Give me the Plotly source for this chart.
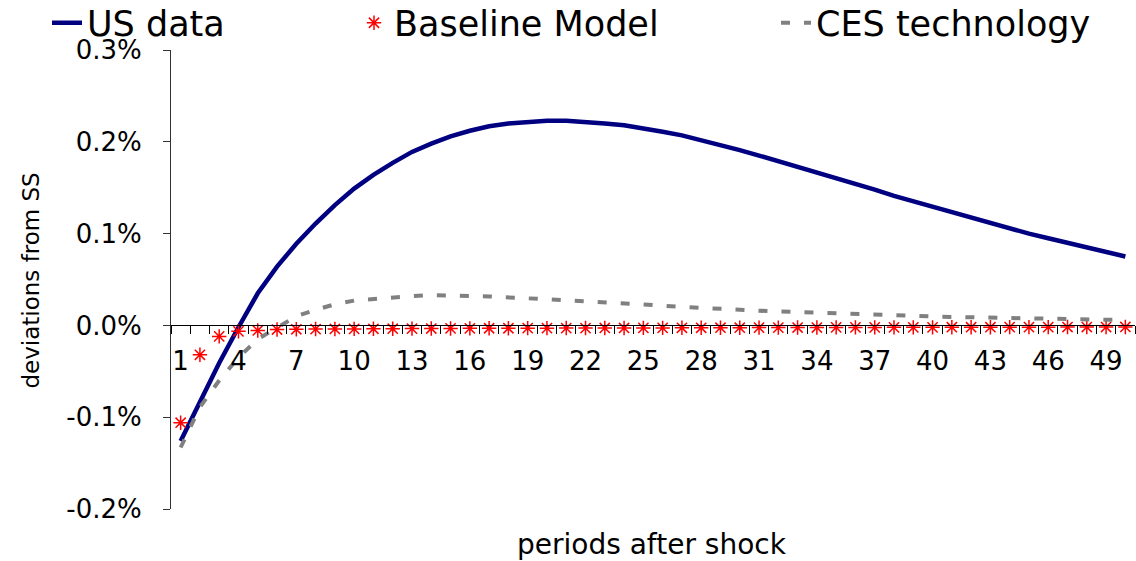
import plotly.graph_objects as go

# Impulse responses, % deviations from steady state, by period after the shock
periods = list(range(1, 51))

us_data = [-0.126, -0.083, -0.041, -0.002, 0.035, 0.064, 0.089, 0.111, 0.131, 0.149,
           0.164, 0.177, 0.189, 0.198, 0.206, 0.212, 0.217, 0.220, 0.222, 0.223,
           0.223, 0.222, 0.220, 0.218, 0.215, 0.211, 0.207, 0.202, 0.197, 0.191,
           0.185, 0.179, 0.173, 0.166, 0.160, 0.154, 0.148, 0.141, 0.135, 0.129,
           0.123, 0.117, 0.111, 0.106, 0.100, 0.095, 0.090, 0.085, 0.080, 0.075]

baseline_model = [-0.106, -0.032, -0.012, -0.0065, -0.0055, -0.0045, -0.0042, -0.004, -0.0039, -0.0038,
                  -0.0037, -0.0036, -0.0035, -0.0034, -0.0033, -0.0032, -0.0031, -0.0031, -0.003, -0.003,
                  -0.0029, -0.0029, -0.0028, -0.0028, -0.0027, -0.0027, -0.0026, -0.0026, -0.0025, -0.0025,
                  -0.0024, -0.0024, -0.0023, -0.0023, -0.0022, -0.0022, -0.0022, -0.0021, -0.0021, -0.0021,
                  -0.002, -0.002, -0.002, -0.0019, -0.0019, -0.0019, -0.0018, -0.0018, -0.0018, -0.0017]

ces_technology = [-0.133, -0.089, -0.060, -0.035, -0.015, -0.002, 0.010, 0.017, 0.023, 0.027,
                  0.029, 0.031, 0.032, 0.033, 0.033, 0.032, 0.0315, 0.031, 0.0295, 0.0285,
                  0.0275, 0.0265, 0.0255, 0.0242, 0.023, 0.0215, 0.0202, 0.019, 0.018, 0.017,
                  0.016, 0.0153, 0.0145, 0.0138, 0.0132, 0.0126, 0.0118, 0.011, 0.0104, 0.0098,
                  0.0092, 0.0087, 0.0084, 0.008, 0.0075, 0.0071, 0.0068, 0.0065, 0.0062, 0.006]

x_tick_labels = [p for p in periods if (p - 1) % 3 == 0]
y_ticks = [-0.2, -0.1, 0.0, 0.1, 0.2, 0.3]

FONT = "DejaVu Sans"
W, H = 1136, 561
ML, MR, MT, MB = 171, 1, 50, 52
PLOT_W, PLOT_H = W - ML - MR, H - MT - MB

fig = go.Figure()

fig.add_trace(go.Scatter(
    x=periods, y=us_data, name="US data", mode="lines",
    line=dict(color="#000080", width=4.5), legend="legend", showlegend=True,
))
fig.add_trace(go.Scatter(
    x=periods, y=baseline_model, name="Baseline Model", mode="markers",
    marker=dict(symbol="asterisk-open", size=12, color="red",
                line=dict(color="red", width=1.5)),
    legend="legend2", showlegend=True,
))
fig.add_trace(go.Scatter(
    x=periods, y=ces_technology, name="CES technology", mode="lines",
    line=dict(color="#808080", width=4, dash="9px,14px"),
    legend="legend3", showlegend=True,
))

# category boundaries get the small tick marks, labels sit every third period
boundaries = [p - 0.5 for p in periods] + [periods[-1] + 0.5]

y_min, y_max = y_ticks[0], y_ticks[-1]


def legend_box(left_px):
    # one legend per series so each entry can sit in its own spot across the top
    return dict(x=(left_px - ML) / PLOT_W, y=1 + (MT - 23) / PLOT_H,
                xanchor="left", yanchor="middle",
                bgcolor="rgba(0,0,0,0)",
                font=dict(family=FONT, size=35, color="black"))


fig.update_layout(
    width=W, height=H,
    margin=dict(l=ML, r=MR, t=MT, b=MB, autoexpand=False),
    paper_bgcolor="white", plot_bgcolor="white",
    font=dict(family=FONT, color="black"),
    showlegend=True,
    xaxis=dict(
        range=[periods[0] - 0.5, periods[-1] + 0.5],
        anchor="free", position=(0 - y_min) / (y_max - y_min),
        showline=True, linecolor="black", linewidth=1,
        showgrid=False, zeroline=False,
        tickmode="array", tickvals=x_tick_labels, ticktext=[str(v) for v in x_tick_labels],
        ticks="outside", ticklen=8, tickcolor="rgba(0,0,0,0)",
        tickfont=dict(family=FONT, size=26, color="black"),
        ticklabelstandoff=4,
        minor=dict(tickmode="array", tickvals=boundaries, ticks="outside",
                   ticklen=8, tickcolor="black", tickwidth=1, showgrid=False),
    ),
    yaxis=dict(
        range=[y_min, y_max],
        showline=True, linecolor="#333333", linewidth=1,
        showgrid=False, zeroline=False,
        tickmode="array", tickvals=y_ticks,
        ticktext=[f"{v:.1f}%" for v in y_ticks],
        ticks="outside", ticklen=7, tickcolor="#333333",
        tickfont=dict(family=FONT, size=26, color="black"),
        ticklabelstandoff=16,
    ),
    legend=legend_box(47),
    legend2=legend_box(354),
    legend3=legend_box(776),
    annotations=[
        dict(text="periods after shock", xref="paper", yref="paper",
             x=0.4988, y=-0.078, xanchor="center", yanchor="middle",
             showarrow=False, font=dict(family=FONT, size=28, color="black")),
        dict(text="deviations from SS", xref="paper", yref="paper",
             x=-0.1457, y=0.4967, xanchor="center", yanchor="middle", textangle=-90,
             showarrow=False, font=dict(family=FONT, size=23, color="black")),
    ],
)

fig.write_html("out.html")
